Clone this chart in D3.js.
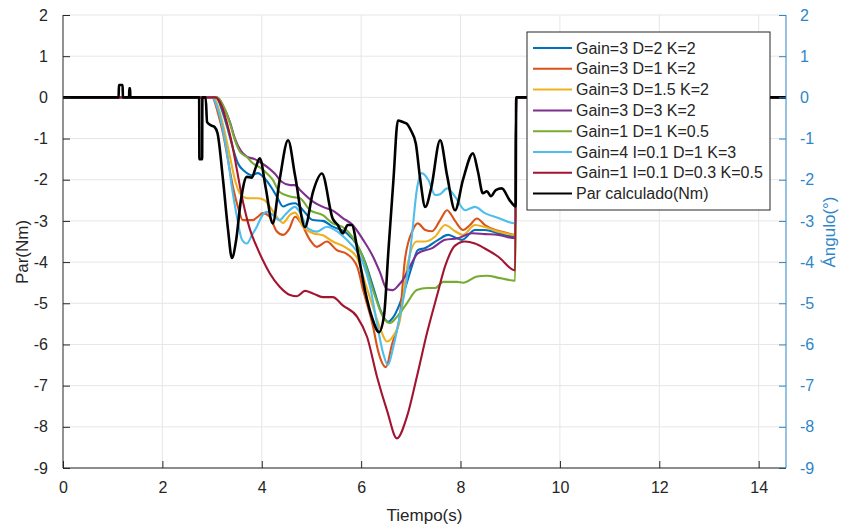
<!DOCTYPE html>
<html>
<head>
<meta charset="utf-8">
<script src="https://cdn.jsdelivr.net/npm/d3@7"></script>
<style>
  body { margin: 0; background: #fff; }
  text { font-family: "Liberation Sans", Arial, sans-serif; }
</style>
</head>
<body>
<script>
// tick values
var xTicks = [0, 2, 4, 6, 8, 10, 12, 14];
var yTicks = [2, 1, 0, -1, -2, -3, -4, -5, -6, -7, -8, -9];

var legendNames = ["Gain=3 D=2 K=2", "Gain=3 D=1 K=2", "Gain=3 D=1.5 K=2", "Gain=3 D=3 K=2",
  "Gain=1 D=1 K=0.5", "Gain=4 I=0.1 D=1 K=3", "Gain=1 I=0.1 D=0.3 K=0.5", "Par calculado(Nm)"];
var lineColors = ["#0072BD", "#D95319", "#EDB120", "#7E2F8E", "#77AC30", "#4DBEEE", "#A2142F", "#000000"];

// [tiempo, valor]
var gain3D2 = [[0,0],[2.85,0],[3.08,0],[3.22,-0.39],[3.32,-0.79],[3.42,-1.24],[3.52,-1.6],[3.66,-1.8],[3.80,-1.89],[3.92,-1.84],[4.06,-1.97],[4.20,-2.2],[4.30,-2.4],[4.43,-2.65],[4.53,-2.6],[4.67,-2.57],[4.83,-2.74],[5.03,-2.98],[5.23,-3.0],[5.43,-3.14],[5.71,-3.3],[5.92,-3.59],[6.08,-4.0],[6.24,-4.6],[6.40,-5.2],[6.54,-5.45],[6.64,-5.35],[6.78,-5.0],[6.92,-4.5],[7.04,-4.03],[7.14,-3.71],[7.29,-3.66],[7.55,-3.46],[7.75,-3.34],[7.89,-3.4],[8.03,-3.46],[8.29,-3.22],[8.49,-3.22],[8.76,-3.3],[9.10,-3.38],[9.12,0],[14.55,0]];
var gain3D1 = [[0,0],[3.0,0],[3.12,-0.39],[3.22,-0.87],[3.32,-1.52],[3.42,-2.17],[3.52,-2.66],[3.62,-2.98],[3.82,-2.98],[3.92,-2.9],[4.02,-2.81],[4.16,-2.9],[4.30,-3.25],[4.43,-3.34],[4.55,-3.2],[4.67,-2.9],[4.79,-3.05],[4.97,-3.46],[5.11,-3.63],[5.31,-3.5],[5.51,-3.71],[5.71,-3.8],[5.92,-4.11],[6.04,-4.68],[6.24,-5.57],[6.34,-6.15],[6.50,-6.55],[6.62,-6.0],[6.78,-5.3],[6.88,-3.95],[7.04,-3.22],[7.14,-3.06],[7.29,-3.22],[7.43,-3.25],[7.59,-2.98],[7.73,-2.74],[7.89,-3.0],[8.05,-3.22],[8.19,-3.1],[8.33,-2.94],[8.49,-3.1],[8.70,-3.22],[8.90,-3.28],[9.10,-3.34],[9.12,0],[14.55,0]];
var gain3D15 = [[0,0],[3.02,0],[3.16,-0.39],[3.26,-0.87],[3.36,-1.44],[3.46,-2.0],[3.56,-2.33],[3.72,-2.45],[3.92,-2.45],[4.06,-2.5],[4.16,-2.65],[4.30,-2.9],[4.43,-3.05],[4.57,-2.85],[4.67,-2.8],[4.83,-3.14],[5.03,-3.3],[5.23,-3.35],[5.43,-3.5],[5.71,-3.66],[5.92,-3.9],[6.08,-4.5],[6.24,-5.1],[6.38,-5.6],[6.52,-5.93],[6.64,-5.8],[6.78,-5.41],[6.94,-4.03],[7.12,-3.5],[7.29,-3.5],[7.49,-3.38],[7.69,-3.1],[7.89,-3.25],[8.05,-3.34],[8.29,-3.1],[8.49,-3.15],[8.76,-3.26],[9.10,-3.34],[9.12,0],[14.55,0]];
var gain3D3 = [[0,0],[3.1,0],[3.26,-0.3],[3.36,-0.6],[3.46,-1.0],[3.58,-1.3],[3.70,-1.44],[3.86,-1.5],[4.0,-1.6],[4.12,-1.7],[4.26,-1.85],[4.40,-2.05],[4.57,-2.13],[4.67,-2.13],[4.77,-2.25],[5.03,-2.53],[5.23,-2.66],[5.43,-2.75],[5.63,-2.93],[5.83,-3.1],[6.04,-3.46],[6.24,-3.87],[6.38,-4.25],[6.52,-4.66],[6.64,-4.68],[6.76,-4.55],[6.84,-4.43],[6.98,-4.11],[7.14,-3.79],[7.43,-3.66],[7.69,-3.46],[7.95,-3.42],[8.23,-3.3],[8.49,-3.32],[8.76,-3.34],[9.10,-3.42],[9.12,0],[14.55,0]];
var gain1D1 = [[0,0],[3.1,0],[3.26,-0.3],[3.36,-0.63],[3.46,-1.04],[3.56,-1.32],[3.70,-1.45],[3.82,-1.6],[3.96,-1.7],[4.10,-1.84],[4.22,-2.0],[4.36,-2.3],[4.57,-2.41],[4.77,-2.45],[4.97,-2.74],[5.23,-2.86],[5.43,-3.06],[5.63,-3.15],[5.83,-3.4],[6.04,-3.9],[6.24,-4.68],[6.44,-5.33],[6.58,-5.48],[6.72,-5.33],[6.92,-5.0],[7.12,-4.68],[7.33,-4.63],[7.49,-4.63],[7.65,-4.48],[7.93,-4.48],[8.05,-4.5],[8.33,-4.35],[8.53,-4.33],[8.80,-4.39],[9.10,-4.45],[9.12,0],[14.55,0]];
var gain4I01 = [[0,0],[3.0,0],[3.12,-0.3],[3.22,-0.8],[3.32,-1.5],[3.40,-2.2],[3.50,-2.9],[3.60,-3.45],[3.70,-3.55],[3.80,-3.35],[3.90,-3.14],[4.02,-2.85],[4.10,-2.78],[4.22,-2.85],[4.36,-2.98],[4.47,-2.85],[4.67,-2.66],[4.77,-2.8],[4.93,-3.18],[5.11,-3.26],[5.31,-3.14],[5.51,-3.25],[5.71,-3.46],[5.92,-3.75],[6.04,-4.03],[6.18,-4.6],[6.32,-5.5],[6.44,-6.2],[6.54,-6.5],[6.64,-6.1],[6.78,-5.3],[6.92,-4.4],[7.02,-3.38],[7.12,-2.25],[7.22,-1.84],[7.35,-2.0],[7.49,-2.37],[7.59,-2.35],[7.73,-2.21],[7.89,-2.41],[8.09,-2.74],[8.29,-2.66],[8.49,-2.81],[8.76,-2.93],[9.10,-3.06],[9.12,0],[14.55,0]];
var gain1I01 = [[0,0],[3.06,0],[3.20,-0.23],[3.30,-0.63],[3.40,-1.12],[3.50,-1.76],[3.60,-2.41],[3.66,-2.74],[3.76,-3.2],[3.90,-3.63],[4.02,-3.95],[4.16,-4.27],[4.36,-4.6],[4.57,-4.8],[4.71,-4.83],[4.87,-4.7],[5.03,-4.76],[5.23,-4.85],[5.43,-4.85],[5.63,-5.05],[5.92,-5.33],[6.12,-5.82],[6.32,-6.79],[6.52,-7.6],[6.72,-8.28],[6.92,-7.76],[7.12,-6.79],[7.33,-5.7],[7.53,-4.8],[7.69,-4.1],[7.89,-3.6],[8.09,-3.5],[8.29,-3.55],[8.49,-3.67],[8.76,-3.87],[9.10,-4.2],[9.12,0],[14.55,0]];
var parCalculado = [[0,0],[1.12,0],[1.125,0.3],[1.2,0.3],[1.205,0],[1.33,0],[1.335,0.22],[1.35,0.22],[1.355,0],[2.74,0],[2.745,-1.5],[2.80,-1.5],[2.805,0],[2.87,0],[2.90,-0.6],[2.98,-0.68],[3.05,-0.72],[3.11,-0.87],[3.22,-2.0],[3.32,-3.2],[3.40,-3.9],[3.48,-3.5],[3.58,-2.5],[3.70,-1.93],[3.80,-1.95],[3.88,-1.7],[3.96,-1.48],[4.08,-2.2],[4.22,-3.06],[4.36,-2.0],[4.53,-1.04],[4.67,-1.9],[4.87,-3.15],[5.03,-2.3],[5.21,-1.85],[5.43,-2.95],[5.53,-3.1],[5.63,-3.3],[5.73,-3.1],[5.81,-3.1],[5.94,-3.8],[6.08,-4.7],[6.22,-5.35],[6.36,-5.7],[6.46,-5.3],[6.55,-3.7],[6.65,-2.0],[6.74,-0.56],[6.84,-0.6],[6.92,-0.64],[7.0,-0.8],[7.10,-1.12],[7.19,-2.0],[7.29,-2.66],[7.41,-2.2],[7.59,-1.04],[7.73,-1.9],[7.89,-2.74],[8.05,-2.0],[8.25,-1.36],[8.35,-1.8],[8.45,-2.33],[8.53,-2.28],[8.61,-2.4],[8.71,-2.25],[8.83,-2.21],[8.99,-2.5],[9.11,-2.65],[9.12,0],[14.55,0]];

var allSeries = [gain3D2, gain3D1, gain3D15, gain3D3, gain1D1, gain4I01, gain1I01, parCalculado];

var width = 841, height = 530;
var plotLeft = 63, plotRight = 786, plotTop = 15, plotBottom = 468;
var axisColor = "#262626", rightColor = "#2f86c6", gridColor = "#e6e6e6";

var svg = d3.select("body").append("svg")
  .attr("width", width)
  .attr("height", height);

var x = d3.scaleLinear().domain([0, 14.55]).range([plotLeft, plotRight]);
var y = d3.scaleLinear().domain([-9, 2]).range([plotBottom, plotTop]);
var yRight = d3.scaleLinear().domain([-9, 2]).range([plotBottom, plotTop]);

// grid
svg.append("g").selectAll("line").data(xTicks.slice(1)).enter().append("line")
  .attr("x1", d => x(d)).attr("x2", d => x(d))
  .attr("y1", plotTop).attr("y2", plotBottom)
  .attr("stroke", gridColor).attr("stroke-width", 1);
svg.append("g").selectAll("line").data(yTicks).enter().append("line")
  .attr("x1", plotLeft).attr("x2", plotRight)
  .attr("y1", d => y(d)).attr("y2", d => y(d))
  .attr("stroke", gridColor).attr("stroke-width", 1);

// lines
var line = d3.line()
  .x(d => x(d[0]))
  .y(d => y(d[1]))
  .curve(d3.curveMonotoneX);

var plot = svg.append("g");
allSeries.forEach(function(s, i) {
  plot.append("path")
    .datum(s)
    .attr("d", line)
    .attr("fill", "none")
    .attr("stroke", lineColors[i])
    .attr("stroke-width", i == 7 ? 2.6 : 2.1)
    .attr("stroke-linejoin", "round");
});

// plain hyphen for negatives, like the original
var fmt = function(d) { return String(d); };

// axes, MATLAB style ticks pointing inside
var xAxis = svg.append("g")
  .attr("transform", "translate(0," + plotBottom + ")")
  .call(d3.axisBottom(x).tickValues(xTicks).tickFormat(fmt).tickSize(-7).tickPadding(14));
var yAxis = svg.append("g")
  .attr("transform", "translate(" + plotLeft + ",0)")
  .call(d3.axisLeft(y).tickValues(yTicks).tickFormat(fmt).tickSize(-7).tickPadding(15));
var yAxis2 = svg.append("g")
  .attr("transform", "translate(" + plotRight + ",0)")
  .call(d3.axisRight(yRight).tickValues(yTicks).tickFormat(fmt).tickSize(-7).tickPadding(14));

[xAxis, yAxis].forEach(function(a) {
  a.selectAll(".tick line").attr("stroke", axisColor);
  a.selectAll("text").attr("fill", axisColor).style("font-size", "16px")
    .style("font-family", "Liberation Sans, Arial, sans-serif");
});
yAxis2.selectAll(".tick line").attr("stroke", rightColor);
yAxis2.selectAll("text").attr("fill", rightColor).style("font-size", "16px")
  .style("font-family", "Liberation Sans, Arial, sans-serif");
yAxis2.select(".domain").remove();
xAxis.select(".domain").remove();
yAxis.select(".domain").remove();

// axis lines
svg.append("line").attr("x1", plotLeft).attr("x2", plotRight).attr("y1", plotBottom).attr("y2", plotBottom)
  .attr("stroke", axisColor).attr("stroke-width", 1);
svg.append("line").attr("x1", plotLeft).attr("x2", plotLeft).attr("y1", plotTop).attr("y2", plotBottom)
  .attr("stroke", axisColor).attr("stroke-width", 1);
svg.append("line").attr("x1", plotRight).attr("x2", plotRight).attr("y1", plotTop).attr("y2", plotBottom)
  .attr("stroke", rightColor).attr("stroke-width", 1);

// labels
svg.append("text")
  .attr("x", (plotLeft + plotRight) / 2).attr("y", 521)
  .attr("text-anchor", "middle")
  .style("font-size", "17px").attr("fill", axisColor)
  .text("Tiempo(s)");
svg.append("text")
  .attr("transform", "translate(28,252) rotate(-90)")
  .attr("text-anchor", "middle")
  .style("font-size", "17px").attr("fill", axisColor)
  .text("Par(Nm)");
svg.append("text")
  .attr("transform", "translate(835,232) rotate(-90)")
  .attr("text-anchor", "middle")
  .style("font-size", "17px").attr("fill", rightColor)
  .text("Ángulo(°)");

// legend
var lg = svg.append("g").attr("transform", "translate(527,32)");
lg.append("rect")
  .attr("width", 243).attr("height", 178)
  .attr("fill", "#fff").attr("stroke", axisColor).attr("stroke-width", 1);
var rows = lg.selectAll("g.row").data(legendNames).enter().append("g")
  .attr("transform", (d, i) => "translate(0," + (16 + i * 20.8) + ")");
rows.append("line")
  .attr("x1", 6).attr("x2", 45).attr("y1", 0).attr("y2", 0)
  .attr("stroke", (d, i) => lineColors[i]).attr("stroke-width", 2);
rows.append("text")
  .attr("x", 49).attr("y", 0).attr("dy", "0.35em")
  .style("font-size", "16px").attr("fill", axisColor)
  .text(d => d);
</script>
</body>
</html>
